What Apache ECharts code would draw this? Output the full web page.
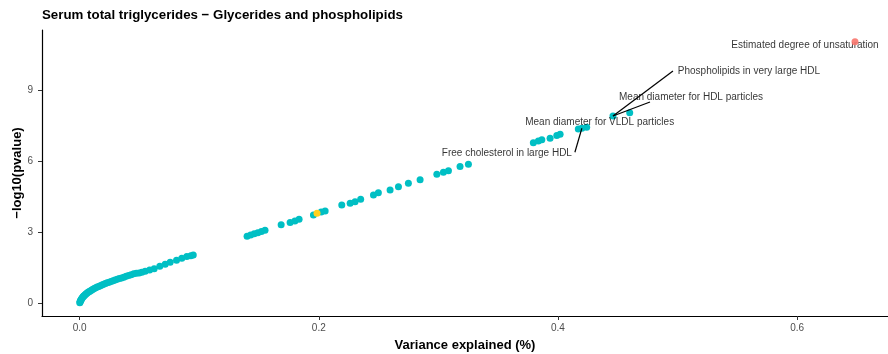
<!DOCTYPE html>
<html lang="en">
<head>
  <meta charset="UTF-8">
  <title>Serum total triglycerides</title>
  <style>
    html, body { margin: 0; padding: 0; background: #fff; }
  </style>
</head>
<body>
  <div id="main" style="width:888px;height:354px"></div>
  <script src="https://cdn.jsdelivr.net/npm/echarts@6/dist/echarts.min.js"></script>
  <script>
    var myChart = echarts.init(document.getElementById('main'))

    // variance explained (%) , -log10(pvalue)
    var tealX = [0.0001, 0.0003, 0.0005, 0.0008, 0.0011, 0.0014, 0.0018, 0.0022, 0.0027, 0.0032,
                 0.0037, 0.0043, 0.0050, 0.0057, 0.0065, 0.0073, 0.0082, 0.0091, 0.0101, 0.0111,
                 0.0122, 0.0134, 0.0146, 0.0159, 0.0172, 0.0186, 0.0200, 0.0215, 0.0230, 0.0246,
                 0.0262, 0.0279, 0.0296, 0.0314, 0.0332, 0.0350, 0.0369, 0.0389, 0.0409, 0.0430,
                 0.0452, 0.0474, 0.0497, 0.0520, 0.0548, 0.0585, 0.0623, 0.0670, 0.0715, 0.0757,
                 0.0810, 0.0854, 0.0896, 0.0930, 0.0950,
                 0.1400, 0.1430, 0.1460, 0.1490, 0.1520, 0.1550, 0.1685, 0.1760, 0.1800, 0.1835,
                 0.1955, 0.2020, 0.2053, 0.2192, 0.2262, 0.2303, 0.2350, 0.2457, 0.2498, 0.2596,
                 0.2666, 0.2749, 0.2847, 0.2987, 0.3042, 0.3084, 0.3181, 0.3251,
                 0.3794, 0.3836, 0.3865, 0.3934, 0.3990, 0.4018, 0.4170, 0.4200, 0.4240, 0.4460,
                 0.4600]
    var tealY = [0.01, 0.04, 0.07, 0.10, 0.13, 0.16, 0.19, 0.22, 0.25, 0.28,
                 0.31, 0.34, 0.37, 0.40, 0.43, 0.46, 0.49, 0.52, 0.55, 0.58,
                 0.61, 0.64, 0.67, 0.70, 0.73, 0.76, 0.79, 0.82, 0.85, 0.88,
                 0.91, 0.94, 0.97, 1.00, 1.03, 1.06, 1.09, 1.13, 1.16, 1.19,
                 1.23, 1.26, 1.27, 1.30, 1.34, 1.39, 1.45, 1.55, 1.64, 1.72,
                 1.81, 1.89, 1.96, 2.00, 2.03,
                 2.82, 2.87, 2.92, 2.97, 3.02, 3.07, 3.30, 3.40, 3.46, 3.54,
                 3.72, 3.84, 3.89, 4.14, 4.21, 4.28, 4.38, 4.56, 4.66, 4.77,
                 4.91, 5.06, 5.20, 5.44, 5.52, 5.59, 5.76, 5.86,
                 6.77, 6.84, 6.89, 6.96, 7.07, 7.13, 7.35, 7.38, 7.42, 7.90,
                 8.04]
    var yellowPoint = [0.1985, 3.79]
    var redPoint = [0.6484, 11.03]

    var labelNames = ['Estimated degree of unsaturation', 'Phospholipids in very large HDL',
                      'Mean diameter for HDL particles', 'Mean diameter for VLDL particles',
                      'Free cholesterol in large HDL']
    var labelX = [0.6484, 0.4460, 0.4460, 0.4240, 0.4200]
    var labelY = [11.03, 7.90, 7.90, 7.42, 7.38]
    // label centre offsets in px from the point
    var labelOffsets = [[-50, 3], [136, -45], [78, -19], [13, -5], [-75, 25]]
    // connector end offsets in px from the point (null = no connector)
    var connectorEnds = [null, [60, -45], [37, -14], null, [-7, 24]]

    var xTicks = [0, 0.2, 0.4, 0.6]
    var yTicks = [0, 3, 6, 9]

    var TEAL = '#00BFC4'
    var FONT = 'Liberation Sans, Arial, sans-serif'

    var tealData = []
    for (var i = 0; i < tealX.length; i++) {
      tealData.push([tealX[i], tealY[i]])
    }

    var annotData = []
    for (var j = 0; j < labelNames.length; j++) {
      annotData.push({ name: labelNames[j], value: [labelX[j], labelY[j]] })
    }

    var options = {
      animation: false,
      title: {
        text: 'Serum total triglycerides \u2212 Glycerides and phospholipids',
        left: 37,
        top: 4,
        textStyle: { fontFamily: FONT, fontSize: 13.3, fontWeight: 'bold', color: '#000' }
      },
      grid: { left: 42, right: 0, top: 30, bottom: 38, outerBoundsMode: 'none' },
      xAxis: {
        type: 'value',
        min: -0.0315,
        max: 0.676,
        name: 'Variance explained (%)',
        nameLocation: 'middle',
        nameGap: 23,
        nameMoveOverlap: false,
        nameTextStyle: { fontFamily: FONT, fontSize: 13, fontWeight: 'bold', color: '#000' },
        axisLine: { show: true, onZero: false, lineStyle: { color: '#000', width: 1.2 } },
        axisTick: { show: true, length: 4, customValues: xTicks, lineStyle: { color: '#333' } },
        axisLabel: {
          customValues: xTicks, margin: 7, fontFamily: FONT, fontSize: 10, color: '#4D4D4D',
          formatter: function (v) { return v.toFixed(1) }
        },
        splitLine: { show: false }
      },
      yAxis: {
        type: 'value',
        min: -0.55,
        max: 11.53,
        name: '\u2212log10(pvalue)',
        nameLocation: 'middle',
        nameGap: 18,
        nameMoveOverlap: false,
        nameTextStyle: { fontFamily: FONT, fontSize: 13, fontWeight: 'bold', color: '#000' },
        axisLine: { show: true, onZero: false, lineStyle: { color: '#000', width: 1.2 } },
        axisTick: { show: true, length: 4, customValues: yTicks, lineStyle: { color: '#333' } },
        axisLabel: { customValues: yTicks, margin: 9, fontFamily: FONT, fontSize: 10, color: '#4D4D4D' },
        splitLine: { show: false }
      },
      series: [
        {
          type: 'scatter',
          data: tealData,
          symbolSize: 7,
          itemStyle: { color: TEAL, opacity: 1 }
        },
        {
          type: 'scatter',
          data: [yellowPoint],
          symbolSize: 7,
          itemStyle: { color: '#FFD21F', opacity: 1 }
        },
        {
          type: 'scatter',
          data: annotData,
          symbolSize: 0,
          z: 4,
          label: {
            show: true,
            position: 'inside',
            formatter: '{b}',
            fontFamily: FONT,
            fontSize: 10,
            color: '#000'
          },
          labelLayout: function (params) {
            var off = labelOffsets[params.dataIndex]
            return { dx: off[0], dy: off[1] }
          }
        },
        {
          type: 'scatter',
          data: [redPoint],
          symbolSize: 7,
          z: 20,
          zlevel: 1,
          itemStyle: { color: '#F8766D', opacity: 0.9 }
        }
      ]
    }

    myChart.setOption(options)

    // connector segments from labels to their points
    var lines = []
    for (var k = 0; k < labelNames.length; k++) {
      if (!connectorEnds[k]) continue
      var p = myChart.convertToPixel({ gridIndex: 0 }, [labelX[k], labelY[k]])
      lines.push({
        type: 'line',
        z: 10,
        shape: { x1: p[0], y1: p[1], x2: p[0] + connectorEnds[k][0], y2: p[1] + connectorEnds[k][1] },
        style: { stroke: '#000', lineWidth: 1.2 }
      })
    }
    myChart.setOption({ graphic: lines })
  </script>
</body>
</html>
